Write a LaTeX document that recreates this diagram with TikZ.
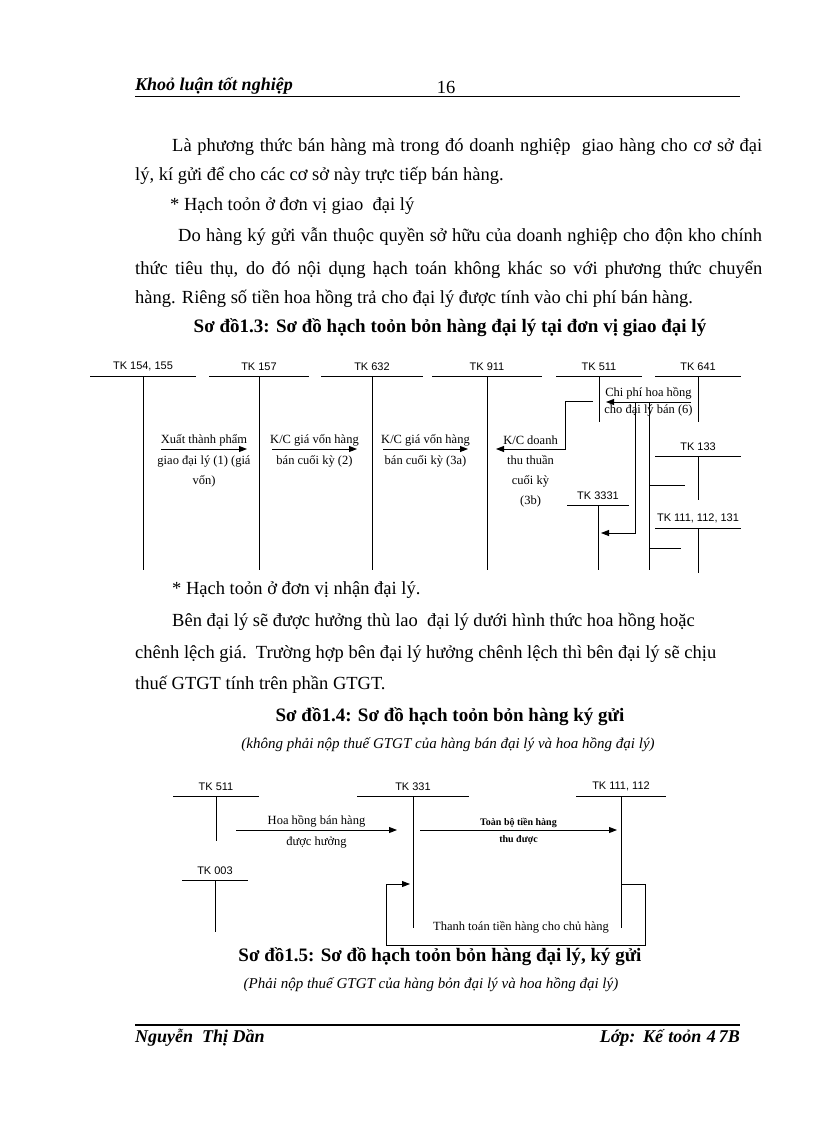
\documentclass[tikz,border=0pt]{standalone}
\usepackage{fontspec}
\setmainfont{Liberation Serif}
\newfontfamily\tkfont{Liberation Sans}
\usetikzlibrary{arrows.meta, positioning}

\begin{document}
\begin{tikzpicture}[
  x=1pt, y=-1pt,
  body/.style={anchor=west, inner sep=0pt, font=\fontsize{18.5}{20}\selectfont},
  caption/.style={inner sep=0pt, font=\fontsize{19}{22}\selectfont\bfseries},
  note/.style={inner sep=0pt, font=\fontsize{15}{17}\selectfont\itshape},
  head/.style={inner sep=0pt, font=\fontsize{18}{20}\selectfont\bfseries\itshape},
  tk/.style={inner sep=0pt, font=\tkfont\fontsize{11}{13}\selectfont},
  lbl/.style={inner sep=2pt, align=center, font=\fontsize{12.5}{20}\selectfont},
  acc/.style={line width=0.9pt},
  arrow/.style={-{Triangle[length=8pt,width=6pt]}, line width=0.9pt}
]
\useasboundingbox (0,0) rectangle (816,1123);

% header and footer
\node[head, anchor=west] (htitle) at (135,86) {Khoỏ luận tốt nghiệp};
\node[inner sep=0pt, font=\fontsize{18.5}{20}\selectfont] (hpage) at (446,87) {16};
\coordinate (hl) at (135,97); \coordinate (hr) at (740,97);
\draw[line width=1pt] (hl) -- (hr);
\coordinate (fl) at (135,1025); \coordinate (fr) at (740,1025);
\draw[line width=2pt] (fl) -- (fr);
\node[head, anchor=west] (fname) at (135,1038) {Nguyễn\ \ Thị Dần};
\node[head, anchor=east] (fclass) at (740,1038) {\hbox to 140pt{Lớp: Kế toỏn 4\,7B}};

% text
\node[body] (p1) at (172,147) {\hbox to 590pt{Là phương thức bán hàng mà trong đó doanh nghiệp\ \ giao hàng cho cơ sở đại}};
\node[body] (p2) at (135,176) {lý, kí gửi để cho các cơ sở này trực tiếp bán hàng.};
\node[body] (p3) at (170,206) {* Hạch toỏn ở đơn vị giao\ \ đại lý};
\node[body] (p4) at (178,237) {\hbox to 584pt{Do hàng ký gửi vẫn thuộc quyền sở hữu của doanh nghiệp cho độn kho chính}};
\node[body] (p5) at (135,270) {\hbox to 627pt{thức tiêu thụ, do đó nội dụng hạch toán không khác so với phương thức chuyển}};
\node[body] (p6) at (135,299) {hàng. Riêng số tiền hoa hồng trả cho đại lý được tính vào chi phí bán hàng.};
\node[caption] (cap13) at (450,328) {Sơ đồ1.3: Sơ đồ hạch toỏn bỏn hàng đại lý tại đơn vị giao đại lý};

\node[body] (p7) at (172,590) {* Hạch toỏn ở đơn vị nhận đại lý.};
\node[body] (p8) at (172,622) {Bên đại lý sẽ được hưởng thù lao\ \ đại lý dưới hình thức hoa hồng hoặc};
\node[body] (p9) at (135,654) {chênh lệch giá.\ \ Trường hợp bên đại lý hưởng chênh lệch thì bên đại lý sẽ chịu};
\node[body] (p10) at (135,685) {thuế GTGT tính trên phần GTGT.};
\node[caption] (cap14) at (450,717) {Sơ đồ1.4: Sơ đồ hạch toỏn bỏn hàng ký gửi};
\node[note] (note14) at (448,745) {(không phải nộp thuế GTGT của hàng bán đại lý và hoa hồng đại lý)};
\node[caption] (cap15) at (440,957) {Sơ đồ1.5: Sơ đồ hạch toỏn bỏn hàng đại lý, ký gửi};
\node[note] (note15) at (431,985) {(Phải nộp thuế GTGT của hàng bỏn đại lý và hoa hồng đại lý)};

% T-accounts: name/label/centre x/half width/top y/bottom y
\foreach \n/\lab/\x/\w/\y/\b in {
    a154/{TK 154, 155}/143/53/376/570,
    a157/TK 157/259/50/376/570,
    a632/TK 632/372/51/376/570,
    a911/TK 911/487/55/376/570,
    a511/TK 511/599/43/376/422,
    a641/TK 641/698/43/376/422,
    a133/TK 133/698/43/456/500,
    a3331/TK 3331/598/31/505/570,
    a111/{TK 111, 112, 131}/698/43/528/573,
    b511/TK 511/216/43/796/841,
    b331/TK 331/413/56/796/928,
    b111/{TK 111, 112}/621/45/796/928,
    b003/TK 003/215/33/880/932} {
  \coordinate (\n-l) at (\x-\w,\y);
  \coordinate (\n-r) at (\x+\w,\y);
  \coordinate (\n-t) at (\x,\y);
  \coordinate (\n-b) at (\x,\b);
  \node[tk, above=5pt of \n-t] (\n-name) {\lab};
  \draw[acc] (\n-l) -- (\n-r);
  \draw[acc] (\n-t) -- (\n-b);
}

% diagram 1.3
\coordinate (e1s) at (161,449); \coordinate (e1e) at (247,449);
\draw[arrow] (e1s) -- node[lbl, above] (e1a) {Xuất thành phẩm}
  node[lbl, below=4pt] (e1b) {giao đại lý (1) (giá\\vốn)} (e1e);
\coordinate (e2s) at (272,449); \coordinate (e2e) at (357,449);
\draw[arrow] (e2s) -- node[lbl, above] (e2a) {K/C giá vốn hàng}
  node[lbl, below=4pt] (e2b) {bán cuối kỳ (2)} (e2e);
\coordinate (e3s) at (383,449); \coordinate (e3e) at (468,449);
\draw[arrow] (e3s) -- node[lbl, above] (e3a) {K/C giá vốn hàng}
  node[lbl, below=4pt] (e3b) {bán cuối kỳ (3a)} (e3e);
\coordinate (e4s) at (593,401); \coordinate (e4k) at (565,449); \coordinate (e4e) at (496,449);
\draw[arrow] (e4s) -| (e4k) -- node[lbl, above=2pt] (e4a) {K/C doanh}
  node[lbl, below=4pt] (e4b) {thu thuần\\cuối kỳ\\(3b)} (e4e);
\coordinate (e6s) at (691,402); \coordinate (e6e) at (606,402);
\draw[arrow] (e6s) -- node[lbl, above] (e6a) {Chi phí hoa hồng}
  node[lbl, below] (e6b) {cho đại lý bán (6)} (e6e);
\coordinate (e7s) at (635,402); \coordinate (e7k) at (635,533); \coordinate (e7e) at (601,533);
\draw[arrow] (e7s) -- (e7k) -- (e7e);
\coordinate (e8s) at (649,403); \coordinate (e8e) at (649,570);
\coordinate (e8a) at (649,485); \coordinate (e8b) at (685,485);
\coordinate (e8c) at (649,548); \coordinate (e8d) at (681,548);
\draw[acc] (e8s) -- (e8e);
\draw[acc] (e8a) -- (e8b);
\draw[acc] (e8c) -- (e8d);

% diagram 1.4
\coordinate (f1s) at (236,830); \coordinate (f1e) at (397,830);
\draw[arrow] (f1s) -- node[lbl, above] (f1a) {Hoa hồng bán hàng}
  node[lbl, below=4pt] (f1b) {được hưởng} (f1e);
\coordinate (f2s) at (420,830); \coordinate (f2e) at (617,830);
\draw[arrow] (f2s) -- node[lbl, above, font=\fontsize{10}{12}\selectfont\bfseries] (f2a) {Toàn bộ tiền hàng}
  node[lbl, below=3pt, font=\fontsize{10}{12}\selectfont\bfseries] (f2b) {thu được} (f2e);
\coordinate (f3s) at (621,884); \coordinate (f3k) at (645,945);
\coordinate (f3m) at (386,884); \coordinate (f3e) at (410,884);
\draw[arrow] (f3s) -| (f3k) -| (f3m) -- (f3e);
\node[lbl] (f3lbl) at (521,927) {Thanh toán tiền hàng cho chủ hàng};
\end{tikzpicture}
\end{document}
